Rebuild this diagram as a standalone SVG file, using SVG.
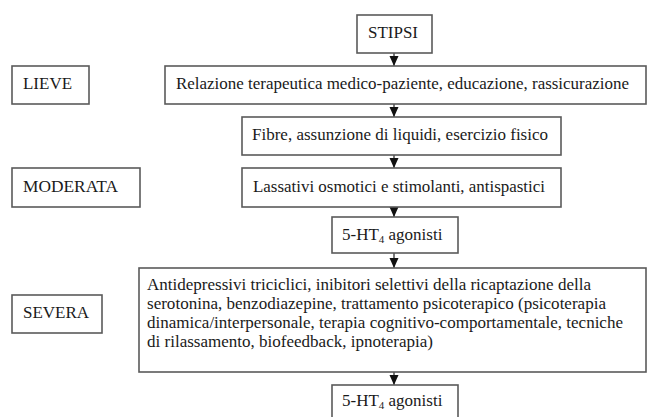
<svg xmlns="http://www.w3.org/2000/svg" width="648" height="417" viewBox="0 0 648 417">
<style>
.box{fill:#fff;stroke:#5a5a5a;stroke-width:1.6}
.c{stroke:#222;stroke-width:1.2;fill:none}
</style>
<defs>
<marker id="ah" markerUnits="userSpaceOnUse" markerWidth="10" markerHeight="10" viewBox="0 0 10 10" refX="10" refY="5" orient="auto">
<path d="M0,0.5 L10,5 L0,9.5 Z" fill="#111"/>
</marker>
</defs>
<g id="connectors">
<line class="c" x1="394" y1="53" x2="394" y2="66" marker-end="url(#ah)"/>
<line class="c" x1="394" y1="104" x2="394" y2="117" marker-end="url(#ah)"/>
<line class="c" x1="394" y1="155" x2="394" y2="168" marker-end="url(#ah)"/>
<line class="c" x1="394" y1="207" x2="394" y2="217" marker-end="url(#ah)"/>
<line class="c" x1="394" y1="253" x2="394" y2="268" marker-end="url(#ah)"/>
<line class="c" x1="394" y1="372" x2="394" y2="385" marker-end="url(#ah)"/>
</g>
<g font-family="Liberation Serif, serif" font-size="17" fill="#1a1a1a">
<g id="stipsi">
<rect class="box" x="357" y="15" width="75" height="38"/>
<text x="368" y="38" textLength="50" lengthAdjust="spacingAndGlyphs">STIPSI</text>
</g>
<g id="lieve">
<rect class="box" x="12" y="66" width="77" height="38"/>
<text x="23" y="89" textLength="49" lengthAdjust="spacingAndGlyphs">LIEVE</text>
</g>
<g id="relazione">
<rect class="box" x="165" y="66" width="481" height="38"/>
<text x="176" y="89" textLength="453" lengthAdjust="spacingAndGlyphs">Relazione terapeutica medico-paziente, educazione, rassicurazione</text>
</g>
<g id="fibre">
<rect class="box" x="242" y="117" width="319" height="38"/>
<text x="252" y="140" textLength="296" lengthAdjust="spacingAndGlyphs">Fibre, assunzione di liquidi, esercizio fisico</text>
</g>
<g id="moderata">
<rect class="box" x="12" y="168" width="128" height="39"/>
<text x="23" y="191.5" textLength="95" lengthAdjust="spacingAndGlyphs">MODERATA</text>
</g>
<g id="lassativi">
<rect class="box" x="242" y="168" width="319" height="39"/>
<text x="253" y="191.5" textLength="292" lengthAdjust="spacingAndGlyphs">Lassativi osmotici e stimolanti, antispastici</text>
</g>
<g id="ht4a">
<rect class="box" x="332" y="217" width="126" height="36"/>
<text x="342" y="239.5">5-HT<tspan font-size="11" dy="3">4</tspan><tspan dy="-3">  agonisti</tspan></text>
</g>
<g id="severa">
<rect class="box" x="12" y="295" width="90" height="38"/>
<text x="23" y="318">SEVERA</text>
</g>
<g id="antidepressivi">
<rect class="box" x="139" y="268" width="507" height="104"/>
<text x="147" y="289.5" textLength="444" lengthAdjust="spacingAndGlyphs">Antidepressivi triciclici, inibitori selettivi della ricaptazione della</text>
<text x="147" y="308.5" textLength="459" lengthAdjust="spacingAndGlyphs">serotonina, benzodiazepine, trattamento psicoterapico (psicoterapia</text>
<text x="147" y="327.5" textLength="476" lengthAdjust="spacingAndGlyphs">dinamica/interpersonale, terapia cognitivo-comportamentale, tecniche</text>
<text x="147" y="346.5" textLength="286" lengthAdjust="spacingAndGlyphs">di rilassamento, biofeedback, ipnoterapia)</text>
</g>
<g id="ht4b">
<rect class="box" x="332" y="385" width="126" height="40"/>
<text x="342" y="406">5-HT<tspan font-size="11" dy="3">4</tspan><tspan dy="-3">  agonisti</tspan></text>
</g>
</g>
</svg>
